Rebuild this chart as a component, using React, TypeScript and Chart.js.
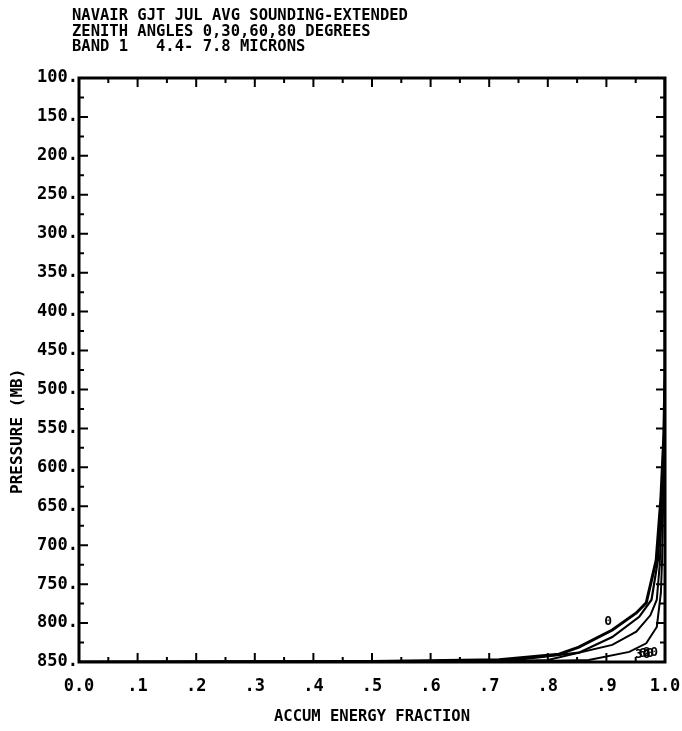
import { useEffect, useRef } from 'react';
import { Chart, registerables } from 'chart.js';

Chart.register(...registerables);

const FONT = '"DejaVu Sans Mono", "Liberation Mono", monospace';

const titleLines = [
  'NAVAIR GJT JUL AVG SOUNDING-EXTENDED',
  'ZENITH ANGLES 0,30,60,80 DEGREES',
  'BAND 1   4.4- 7.8 MICRONS',
];

const xAxisTitle = 'ACCUM ENERGY FRACTION';
const yAxisTitle = 'PRESSURE (MB)';

const fractionMin = 0;
const fractionMax = 1;
const fractionStep = 0.1;
const pressureTop = 100;
const pressureBottom = 850;
const pressureStep = 50;

// Accumulated energy fraction vs. pressure, one curve per zenith angle
const zenith0Fraction = [0, 0.5, 0.717, 0.819, 0.853, 0.91, 0.951, 0.968, 0.985, 0.993, 0.998, 1, 1];
const zenith0Pressure = [850, 849.5, 847, 840, 831, 809, 787, 774, 719, 640, 560, 480, 100];

const zenith30Fraction = [0, 0.6, 0.75, 0.853, 0.91, 0.956, 0.977, 0.988, 0.994, 0.998, 1, 1];
const zenith30Pressure = [850, 849.5, 847, 838, 818, 792, 770, 719, 640, 560, 480, 100];

const zenith60Fraction = [0, 0.7, 0.8, 0.91, 0.951, 0.975, 0.986, 0.991, 0.995, 0.999, 1, 1];
const zenith60Pressure = [850, 849.5, 847.5, 828, 811, 790, 770, 725, 640, 560, 480, 100];

const zenith80Fraction = [0, 0.75, 0.87, 0.939, 0.968, 0.986, 0.993, 0.995, 0.997, 0.999, 1, 1];
const zenith80Pressure = [850, 849.5, 847.5, 837, 826, 805, 761, 719, 640, 560, 480, 100];

// Curve tags written beside the curves
const curveTagText = ['0', '30', '60', '80'];
const curveTagFraction = [0.903, 0.962, 0.968, 0.975];
const curveTagPressure = [798, 840, 839, 838];

const toPoints = (xs: number[], ys: number[]) => xs.map((x, i) => ({ x, y: ys[i] }));

const fractionLabel = (v: number) => {
  if (Math.abs(v) < 1e-9) return '0.0';
  if (Math.abs(v - 1) < 1e-9) return '1.0';
  return '.' + Math.round(v * 10);
};

const framePlugin = {
  id: 'frameTicks',
  afterDatasetsDraw(chart: any) {
    const { ctx, chartArea } = chart;
    const xs = chart.scales.x;
    const ys = chart.scales.y;
    const { left, right, top, bottom } = chartArea;
    ctx.save();
    ctx.strokeStyle = '#000';
    ctx.lineCap = 'butt';
    ctx.lineWidth = 2;
    ctx.beginPath();
    for (let i = 0; i <= 20; i++) {
      const v = fractionMin + (i * fractionStep) / 2;
      const px = xs.getPixelForValue(v);
      const len = i % 2 === 0 ? 9 : 5;
      ctx.moveTo(px, bottom);
      ctx.lineTo(px, bottom - len);
      ctx.moveTo(px, top);
      ctx.lineTo(px, top + len);
    }
    const nY = (pressureBottom - pressureTop) / (pressureStep / 2);
    for (let i = 0; i <= nY; i++) {
      const v = pressureTop + (i * pressureStep) / 2;
      const py = ys.getPixelForValue(v);
      const len = i % 2 === 0 ? 9 : 5;
      ctx.moveTo(left, py);
      ctx.lineTo(left + len, py);
      ctx.moveTo(right, py);
      ctx.lineTo(right - len, py);
    }
    ctx.stroke();
    ctx.lineWidth = 3;
    ctx.strokeRect(left, top, right - left, bottom - top);

    // curve tags
    ctx.fillStyle = '#000';
    ctx.font = 'bold 13px ' + FONT;
    ctx.textAlign = 'center';
    ctx.textBaseline = 'middle';
    curveTagText.forEach((t, i) => {
      ctx.fillText(t, xs.getPixelForValue(curveTagFraction[i]), ys.getPixelForValue(curveTagPressure[i]));
    });
    ctx.restore();
  },
  afterDraw(chart: any) {
    const { ctx, chartArea } = chart;
    ctx.save();
    ctx.fillStyle = '#000';
    ctx.font = 'bold 15.5px ' + FONT;
    ctx.textAlign = 'left';
    ctx.textBaseline = 'middle';
    const x0 = chartArea.left - 7;
    titleLines.forEach((line, i) => {
      ctx.fillText(line, x0, 16 + i * 15.5);
    });
    ctx.font = 'bold 16px ' + FONT;
    ctx.translate(18, chartArea.top + (chartArea.bottom - chartArea.top) * 0.605);
    ctx.rotate(-Math.PI / 2);
    ctx.textAlign = 'center';
    ctx.fillText(yAxisTitle, 0, 0);
    ctx.restore();
  },
};

export default function App() {
  const ref = useRef<HTMLCanvasElement | null>(null);

  useEffect(() => {
    if (!ref.current) return;
    const mk = (xs: number[], ys: number[], w: number) => ({
      data: toPoints(xs, ys),
      borderColor: '#000',
      backgroundColor: '#000',
      borderWidth: w,
      pointRadius: 0,
      tension: 0,
      fill: false,
    });
    const chart = new Chart(ref.current, {
      type: 'line',
      data: {
        datasets: [
          { label: '0', ...mk(zenith0Fraction, zenith0Pressure, 3) },
          { label: '30', ...mk(zenith30Fraction, zenith30Pressure, 2.2) },
          { label: '60', ...mk(zenith60Fraction, zenith60Pressure, 2) },
          { label: '80', ...mk(zenith80Fraction, zenith80Pressure, 2) },
        ],
      },
      options: {
        animation: false,
        responsive: false,
        devicePixelRatio: 1,
        parsing: false,
        layout: { padding: { top: 78, right: 17, left: 0, bottom: 0 } },
        plugins: { legend: { display: false }, tooltip: { enabled: false }, title: { display: false } },
        scales: {
          x: {
            type: 'linear',
            min: fractionMin,
            max: fractionMax,
            afterFit: (s: any) => {
              s.height = 69;
              s.paddingLeft = 0;
              s.paddingRight = 0;
            },
            grid: { display: false, drawTicks: false },
            border: { display: false },
            ticks: {
              stepSize: fractionStep,
              autoSkip: false,
              maxRotation: 0,
              padding: 14,
              color: '#000',
              font: { family: FONT, size: 17, weight: 'bold' },
              callback: (v: any) => fractionLabel(Number(v)),
            },
            title: {
              display: true,
              text: xAxisTitle,
              color: '#000',
              font: { family: FONT, size: 15.5, weight: 'bold' },
              padding: { top: 0, bottom: 5 },
            },
          },
          y: {
            type: 'linear',
            reverse: true,
            min: pressureTop,
            max: pressureBottom,
            afterFit: (s: any) => {
              s.width = 79;
              s.paddingTop = 0;
              s.paddingBottom = 0;
            },
            grid: { display: false, drawTicks: false },
            border: { display: false },
            ticks: {
              stepSize: pressureStep,
              autoSkip: false,
              padding: 1,
              color: '#000',
              font: { family: FONT, size: 17, weight: 'bold' },
              callback: (v: any) => String(v) + '.',
            },
          },
        },
      },
      plugins: [framePlugin],
    } as any);
    return () => chart.destroy();
  }, []);

  return (
    <div style={{ position: 'fixed', left: 0, top: 0, width: 682, height: 731, background: '#fff' }}>
      <canvas ref={ref} width={682} height={731} style={{ display: 'block' }} />
    </div>
  );
}
